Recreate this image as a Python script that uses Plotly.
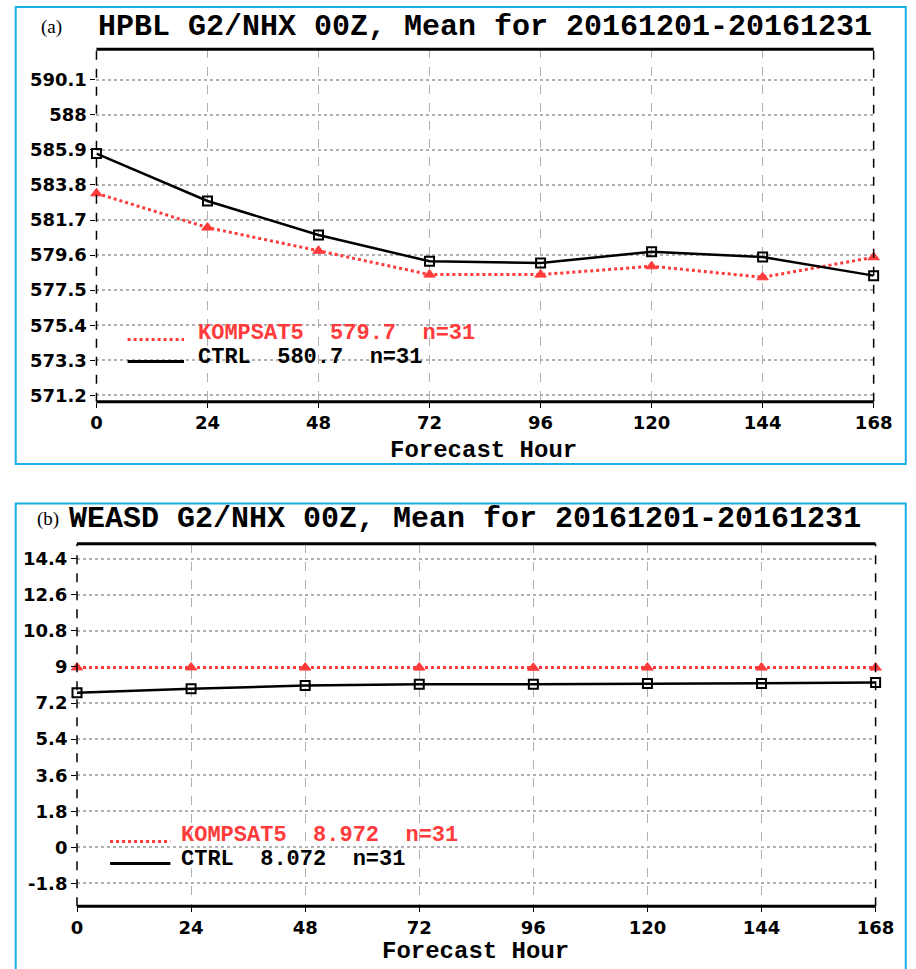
import plotly.graph_objects as go
from plotly.subplots import make_subplots

# forecast hours shared by both panels
hours = [0, 24, 48, 72, 96, 120, 144, 168]

# (a) HPBL
hpbl_kompsat5 = [583.30, 581.25, 579.86, 578.43, 578.43, 578.93, 578.27, 579.47]
hpbl_ctrl = [585.68, 582.84, 580.80, 579.23, 579.13, 579.80, 579.48, 578.37]
hpbl_ticks = [571.2, 573.3, 575.4, 577.5, 579.6, 581.7, 583.8, 585.9, 588, 590.1]
hpbl_ticktext = ["571.2", "573.3", "575.4", "577.5", "579.6", "581.7", "583.8", "585.9", "588", "590.1"]

# (b) WEASD
weasd_kompsat5 = [8.98, 8.98, 8.97, 8.97, 8.96, 8.97, 8.97, 8.97]
weasd_ctrl = [7.72, 7.92, 8.07, 8.14, 8.14, 8.17, 8.17, 8.22]
weasd_ticks = [-1.8, 0, 1.8, 3.6, 5.4, 7.2, 9, 10.8, 12.6, 14.4]
weasd_ticktext = ["-1.8", "0", "1.8", "3.6", "5.4", "7.2", "9", "10.8", "12.6", "14.4"]

titles = ["HPBL G2/NHX 00Z, Mean for 20161201-20161231",
          "WEASD G2/NHX 00Z, Mean for 20161201-20161231"]
panel_tags = ["(a)", "(b)"]
legend_kompsat5 = ["KOMPSAT5  579.7  n=31", "KOMPSAT5  8.972  n=31"]
legend_ctrl = ["CTRL  580.7  n=31", "CTRL  8.072  n=31"]

RED = "#ff3b3b"
BLUE = "#1aaee6"
W, H = 916, 969

fig = make_subplots(rows=2, cols=1)


# pixel positions measured on the target -> paper fractions
def px(x):
    return x / W


def py(y):
    return 1 - y / H


# plot area boxes in pixels (left, top, right, bottom)
boxes = [(93, 49.5, 892, 403.3), (73, 546, 894, 910)]
ranges = [[570.82, 591.93], [-2.94, 15.15]]
series = [(hpbl_kompsat5, hpbl_ctrl), (weasd_kompsat5, weasd_ctrl)]
yticks = [(hpbl_ticks, hpbl_ticktext), (weasd_ticks, weasd_ticktext)]
tick_font = dict(family="DejaVu Sans", size=18, color="black", weight="bold")

for i in range(2):
    row = i + 1
    kom, ctrl = series[i]
    fig.add_trace(go.Scatter(x=hours, y=kom, mode="lines+markers",
                             line=dict(color=RED, width=3, dash="dot"),
                             marker=dict(symbol="triangle-up", size=10, color=RED,
                                         line=dict(color=RED, width=1)),
                             showlegend=False, cliponaxis=False), row=row, col=1)
    fig.add_trace(go.Scatter(x=hours, y=ctrl, mode="lines+markers",
                             line=dict(color="black", width=2.5),
                             marker=dict(symbol="square-open", size=9, color="black",
                                         line=dict(width=2)),
                             showlegend=False, cliponaxis=False), row=row, col=1)

    l, t, r, b = boxes[i]
    xa = "xaxis" if i == 0 else "xaxis2"
    ya = "yaxis" if i == 0 else "yaxis2"
    fig.layout[xa].update(domain=[px(l), px(r)], range=[0, 168], tickvals=hours,
                          showgrid=True, gridcolor="#b0b0b0", griddash="dash", gridwidth=1,
                          zeroline=False, ticks="outside", ticklen=5, tickcolor="black",
                          tickfont=tick_font, showline=False)
    fig.layout[ya].update(domain=[py(b), py(t)], range=ranges[i],
                          tickvals=yticks[i][0], ticktext=yticks[i][1],
                          showgrid=True, gridcolor="#b0b0b0", griddash="dot", gridwidth=1.5,
                          zeroline=False, ticks="outside", ticklen=5, tickcolor="black",
                          tickfont=tick_font, showline=False)

    # frame of the plot area
    fig.add_shape(type="line", xref="paper", yref="paper", x0=px(l), x1=px(r), y0=py(t), y1=py(t),
                  line=dict(color="black", width=3))
    fig.add_shape(type="line", xref="paper", yref="paper", x0=px(l), x1=px(r), y0=py(b), y1=py(b),
                  line=dict(color="black", width=3))
    for xx in (l, r):
        fig.add_shape(type="line", xref="paper", yref="paper", x0=px(xx), x1=px(xx), y0=py(b), y1=py(t),
                      line=dict(color="black", width=1.5, dash="dash"))

# blue frames round each panel (open on the right, running off the page)
fig.add_shape(type="rect", xref="paper", yref="paper", x0=px(10), x1=px(925), y0=py(466), y1=py(7),
              line=dict(color=BLUE, width=2))
fig.add_shape(type="rect", xref="paper", yref="paper", x0=px(10), x1=px(925), y0=py(985), y1=py(505.5),
              line=dict(color=BLUE, width=2))

# titles
title_pos = [(47, 93, 27), (43, 63, 521)]
for i in range(2):
    xt, xm, yc = title_pos[i]
    fig.add_annotation(text=panel_tags[i], xref="paper", yref="paper", x=px(xt), y=py(yc),
                       showarrow=False, xanchor="center", yanchor="middle",
                       font=dict(family="Liberation Serif", size=19, color="black"))
    fig.add_annotation(text=titles[i], xref="paper", yref="paper", x=px(xm), y=py(yc),
                       showarrow=False, xanchor="left", yanchor="middle",
                       font=dict(family="Liberation Mono", size=30, color="black", weight="bold"))

# x axis titles
for xc, yc in [(491, 452), (483, 955)]:
    fig.add_annotation(text="Forecast Hour", xref="paper", yref="paper", x=px(xc), y=py(yc),
                       showarrow=False, xanchor="center", yanchor="middle",
                       font=dict(family="Liberation Mono", size=24, color="black", weight="bold"))

# legends
legend_pos = [(125, 183, 195, 335, 359), (107, 169, 178, 839, 863)]
for i in range(2):
    x0, x1, xt, y1, y2 = legend_pos[i]
    fig.add_shape(type="line", xref="paper", yref="paper", x0=px(x0), x1=px(x1),
                  y0=py(y1 + 6), y1=py(y1 + 6), line=dict(color=RED, width=3, dash="dot"))
    fig.add_shape(type="line", xref="paper", yref="paper", x0=px(x0), x1=px(x1),
                  y0=py(y2 + 4), y1=py(y2 + 4), line=dict(color="black", width=3))
    fig.add_annotation(text=legend_kompsat5[i], xref="paper", yref="paper", x=px(xt), y=py(y1),
                       showarrow=False, xanchor="left", yanchor="middle",
                       font=dict(family="Liberation Mono", size=22, color=RED, weight="bold"))
    fig.add_annotation(text=legend_ctrl[i], xref="paper", yref="paper", x=px(xt), y=py(y2),
                       showarrow=False, xanchor="left", yanchor="middle",
                       font=dict(family="Liberation Mono", size=22, color="black", weight="bold"))

fig.update_layout(width=W, height=H, margin=dict(l=0, r=0, t=0, b=0),
                  paper_bgcolor="white", plot_bgcolor="white")

# drop the default page margin so the figure sits exactly in the window
fig.write_html("out.html", config={"displayModeBar": False},
               post_script="document.body.style.margin='0';document.body.style.overflow='hidden';")
